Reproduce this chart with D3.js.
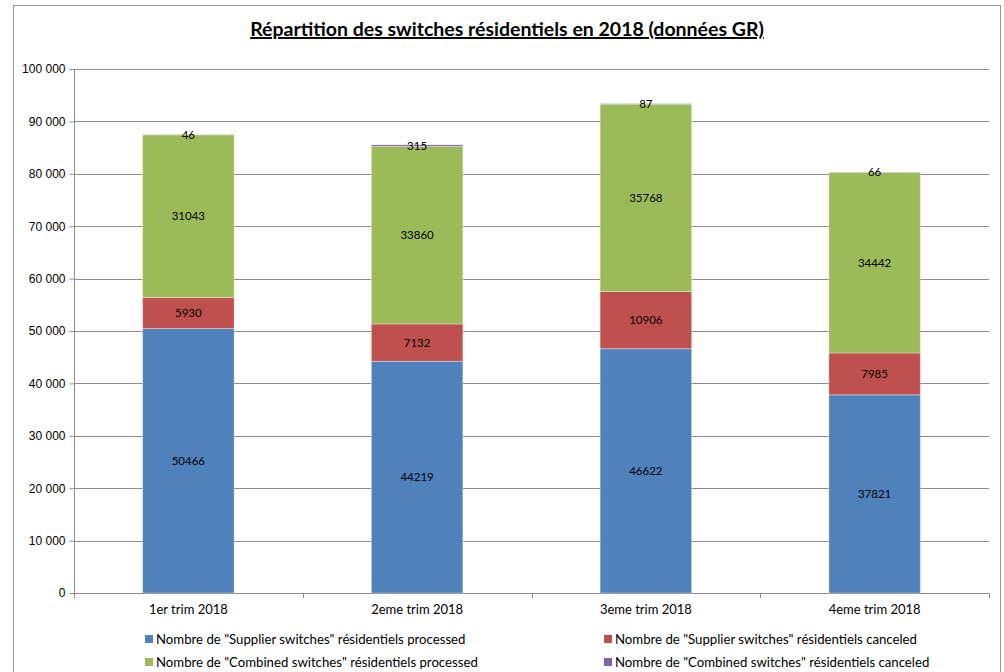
<!DOCTYPE html>
<meta charset="utf-8">
<style>
body { margin: 0; background: #fff; }
svg { font-family: Lato, "Open Sans", sans-serif; }
.grid line { stroke: #8c8c8c; }
.axis path, .axis line { stroke: #8c8c8c; }
.axis text { fill: #000; font-size: 12px; }
.axis .cat { font-size: 13px; }
</style>
<svg width="1004" height="672"></svg>
<script src="https://d3js.org/d3.v7.min.js"></script>
<script>

// quarters and the four series
var quarters = ["1er trim 2018", "2eme trim 2018", "3eme trim 2018", "4eme trim 2018"];
var supplierProcessed = [50466, 44219, 46622, 37821];
var supplierCanceled = [5930, 7132, 10906, 7985];
var combinedProcessed = [31043, 33860, 35768, 34442];
var combinedCanceled = [46, 315, 87, 66];

var seriesNames = [
  'Nombre de "Supplier switches" résidentiels processed',
  'Nombre de "Supplier switches" résidentiels canceled',
  'Nombre de "Combined switches" résidentiels processed',
  'Nombre de "Combined switches" résidentiels canceled'
];
var colours = ["#4f81bd", "#c0504d", "#9bbb59", "#8064a2"];
var yTicks = [0, 10000, 20000, 30000, 40000, 50000, 60000, 70000, 80000, 90000, 100000];

var svg = d3.select("svg");
var margin = {top: 69, right: 15, bottom: 79, left: 74},
    width = 1004 - margin.left - margin.right,
    height = 672 - margin.top - margin.bottom;

// outer frame
svg.append("rect")
    .attr("x", 13.5).attr("y", 5.5)
    .attr("width", 987).attr("height", 680)
    .attr("fill", "none")
    .attr("stroke", "#9a9a9a");

// title
svg.append("text")
    .attr("x", 507).attr("y", 36)
    .attr("text-anchor", "middle")
    .attr("font-size", "19.5px")
    .attr("font-weight", "bold")
    .attr("text-decoration", "underline")
    .text("Répartition des switches résidentiels en 2018 (données GR)");

var table = quarters.map(function(q, i) {
  return {q: q, s0: supplierProcessed[i], s1: supplierCanceled[i], s2: combinedProcessed[i], s3: combinedCanceled[i]};
});
var keys = ["s0", "s1", "s2", "s3"];
var stacked = d3.stack().keys(keys)(table);

var x = d3.scaleBand().domain(quarters).range([0, width]).paddingInner(0.6).paddingOuter(0.3);
var y = d3.scaleLinear().domain([0, 100000]).range([height, 0]);

var g = svg.append("g")
    .attr("transform", "translate(" + margin.left + "," + margin.top + ")");

// horizontal gridlines
g.append("g")
    .attr("class", "grid")
  .selectAll("line")
  .data(yTicks.slice(1))
  .enter().append("line")
    .attr("x1", 0).attr("x2", width)
    .attr("y1", function(d) { return Math.round(y(d)) + 0.5; })
    .attr("y2", function(d) { return Math.round(y(d)) + 0.5; })
    .attr("stroke", function(d) { return d === 100000 ? "#bdbdbd" : "#8c8c8c"; });

// y axis
var fmt = function(d) { return d3.format(",")(d).replace(/,/g, " "); };
var yAxis = g.append("g")
    .attr("class", "axis")
    .attr("transform", "translate(0.5,0)")
    .call(d3.axisLeft(y).tickValues(yTicks).tickFormat(fmt).tickSize(5).tickPadding(4));
yAxis.select(".domain").attr("d", "M0," + y(100000) + "V" + height);

// x axis with ticks at category boundaries
var bounds = d3.range(quarters.length + 1).map(function(i) { return i * width / quarters.length; });
var xAxis = g.append("g").attr("class", "axis");
xAxis.append("line")
    .attr("x1", 0).attr("x2", width)
    .attr("y1", height + 0.5).attr("y2", height + 0.5);
xAxis.selectAll(".tick")
  .data(bounds)
  .enter().append("line")
    .attr("x1", function(d) { return Math.round(d) + 0.5; })
    .attr("x2", function(d) { return Math.round(d) + 0.5; })
    .attr("y1", height).attr("y2", height + 5);
xAxis.selectAll("text")
  .data(quarters)
  .enter().append("text")
    .attr("class", "cat")
    .attr("x", function(d) { return x(d) + x.bandwidth() / 2; })
    .attr("y", height + 21)
    .attr("text-anchor", "middle")
    .text(function(d) { return d; });

// bars
var layers = g.selectAll(".layer")
  .data(stacked)
  .enter().append("g")
    .attr("class", "layer")
    .attr("fill", function(d, i) { return colours[i]; });

layers.selectAll("rect")
  .data(function(d) { return d; })
  .enter().append("rect")
    .attr("x", function(d) { return x(d.data.q); })
    .attr("y", function(d) { return y(d[1]); })
    .attr("width", x.bandwidth())
    .attr("height", function(d) { return y(d[0]) - y(d[1]); })
    .attr("stroke", "rgba(255,255,255,0.35)")
    .attr("stroke-width", 1);

// value labels
layers.selectAll("text")
  .data(function(d) { return d.map(function(p) { return {p: p, key: d.key}; }); })
  .enter().append("text")
    .attr("x", function(d) { return x(d.p.data.q) + x.bandwidth() / 2; })
    .attr("y", function(d) { return (y(d.p[0]) + y(d.p[1])) / 2; })
    .attr("dy", "0.35em")
    .attr("text-anchor", "middle")
    .attr("font-size", "11.5px")
    .attr("fill", "#000")
    .text(function(d) { return d.p.data[d.key]; });

// legend
var legend = svg.append("g")
    .attr("font-size", "13.2px")
  .selectAll("g")
  .data(seriesNames)
  .enter().append("g")
    .attr("transform", function(d, i) {
      return "translate(" + (i % 2 === 0 ? 145 : 604) + "," + (639 + Math.floor(i / 2) * 23) + ")";
    });

legend.append("rect")
    .attr("x", 0).attr("y", -4)
    .attr("width", 8).attr("height", 8)
    .attr("fill", function(d, i) { return colours[i]; });

legend.append("text")
    .attr("x", 11)
    .attr("dy", "0.35em")
    .text(function(d) { return d; });

</script>
